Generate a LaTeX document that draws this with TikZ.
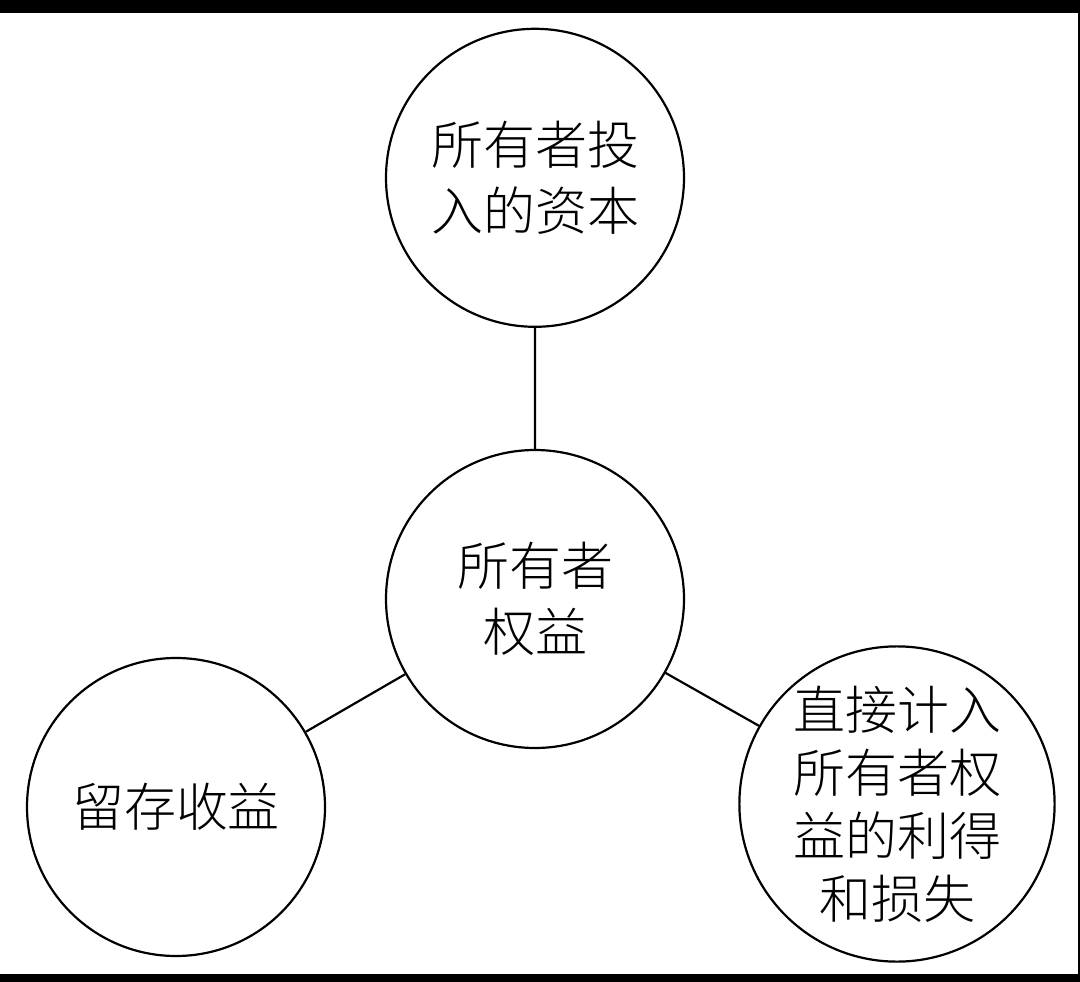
\documentclass[tikz,border=0pt]{standalone}
\usepackage{fontspec}
\IfFontExistsTF{Noto Sans CJK SC Light}
 {\newfontfamily\cjk{Noto Sans CJK SC Light}}
 {\newfontfamily\cjk{Noto Sans CJK SC}}
\usetikzlibrary{positioning}

\begin{document}
\begin{tikzpicture}[x=1pt,y=-1pt,
  bub/.style={circle,draw,line width=2.2pt,minimum size=298pt,inner sep=0pt,
    align=center,font=\cjk\fontsize{52}{66}\selectfont},
  link/.style={line width=2.2pt}]
 \fill[black] (0,0) rectangle (1080,982);
 \fill[white] (0,13) rectangle (1078,974);
 \node[bub] (OE) at (535,599) {所有者\\权益};
 \node[bub,above=121pt of OE] (CAP) {所有者投\\入的资本};
 \node[bub] (RE) at (176,807) {留存收益};
 \node[bub,font=\cjk\fontsize{52}{63}\selectfont] (GL) at (897,804)
  {直接计入\\所有者权\\益的利得\\和损失};
 \draw[link] foreach \X in {CAP,RE,GL} {(OE) -- (\X)};
\end{tikzpicture}
\end{document}
